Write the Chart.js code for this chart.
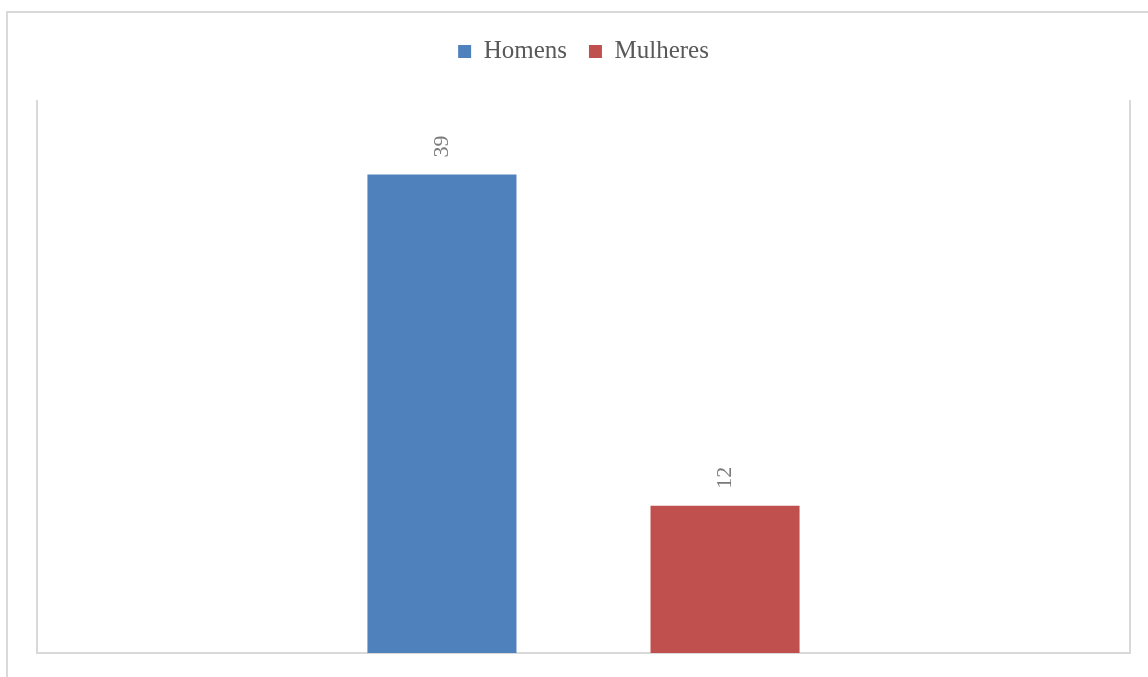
<!DOCTYPE html>
<html>
<head>
<meta charset="utf-8">
<style>
  html, body { margin: 0; padding: 0; background: #fff; }
  #wrap { position: relative; width: 1148px; height: 677px; overflow: hidden; }
  #frame { position: absolute; left: 6px; top: 11px; width: 1200px; height: 720px; border: 2px solid #d9d9d9; box-sizing: border-box; }
  canvas { position: absolute; left: 0; top: 0; }
</style>
<script src="https://cdn.jsdelivr.net/npm/chart.js"></script>
</head>
<body>
<div id="wrap">
  <div id="frame"></div>
  <canvas id="genderChart" width="1148" height="677"></canvas>
</div>
<script>
    // values
    var categories = [''];
    var seriesNames = ['Homens', 'Mulheres'];
    var homens = [39];
    var mulheres = [12];
    var yMax = 45;

    var axisColor = '#d9d9d9';

    // draws the rotated value above each bar
    var barValues = {
        id: 'barValues',
        afterDatasetsDraw: function(chart) {
            var ctx = chart.ctx;
            ctx.save();
            ctx.font = '22px "Liberation Serif", serif';
            ctx.fillStyle = '#7a7a7a';
            ctx.textAlign = 'center';
            ctx.textBaseline = 'middle';
            chart.data.datasets.forEach(function(ds, i) {
                chart.getDatasetMeta(i).data.forEach(function(bar, j) {
                    ctx.save();
                    ctx.translate(bar.x, bar.y - 28);
                    ctx.rotate(-Math.PI / 2);
                    ctx.fillText(String(ds.data[j]), 0, 0);
                    ctx.restore();
                });
            });
            ctx.restore();
        }
    };

    function zeroWidth(axis) { axis.width = 0; }
    function zeroHeight(axis) { axis.height = 0; }

    var ctx = document.getElementById('genderChart').getContext('2d');
    var genderChart = new Chart(ctx, {
        type: 'bar',
        data: {
            labels: categories,
            datasets: [{
                label: seriesNames[0],
                data: homens,
                backgroundColor: '#4f81bd'
            }, {
                label: seriesNames[1],
                data: mulheres,
                backgroundColor: '#c0504d'
            }]
        },
        options: {
            responsive: false,
            animation: false,
            categoryPercentage: 0.518,
            barPercentage: 0.5265,
            layout: {
                padding: { left: 37, right: 18, top: 17, bottom: 24 }
            },
            plugins: {
                tooltip: { enabled: false },
                legend: {
                    position: 'top',
                    labels: {
                        boxWidth: 13,
                        boxHeight: 13,
                        padding: 22,
                        color: '#595959',
                        font: { family: '"Liberation Serif", serif', size: 25 }
                    }
                }
            },
            scales: {
                x: {
                    grid: { display: false },
                    ticks: { display: false },
                    border: { display: true, color: axisColor, width: 2 },
                    afterFit: zeroHeight
                },
                // empty top axis, only keeps the gap under the legend
                xTop: {
                    type: 'category',
                    position: 'top',
                    grid: { display: false },
                    ticks: { display: false },
                    border: { display: false },
                    afterFit: function(axis) { axis.height = 27; }
                },
                y: {
                    min: 0,
                    max: yMax,
                    grid: { display: false },
                    ticks: { display: false },
                    border: { display: true, color: axisColor, width: 2 },
                    afterFit: zeroWidth
                },
                yRight: {
                    position: 'right',
                    min: 0,
                    max: yMax,
                    grid: { display: false },
                    ticks: { display: false },
                    border: { display: true, color: axisColor, width: 2 },
                    afterFit: zeroWidth
                }
            }
        },
        plugins: [barValues]
    });
</script>
</body>
</html>
